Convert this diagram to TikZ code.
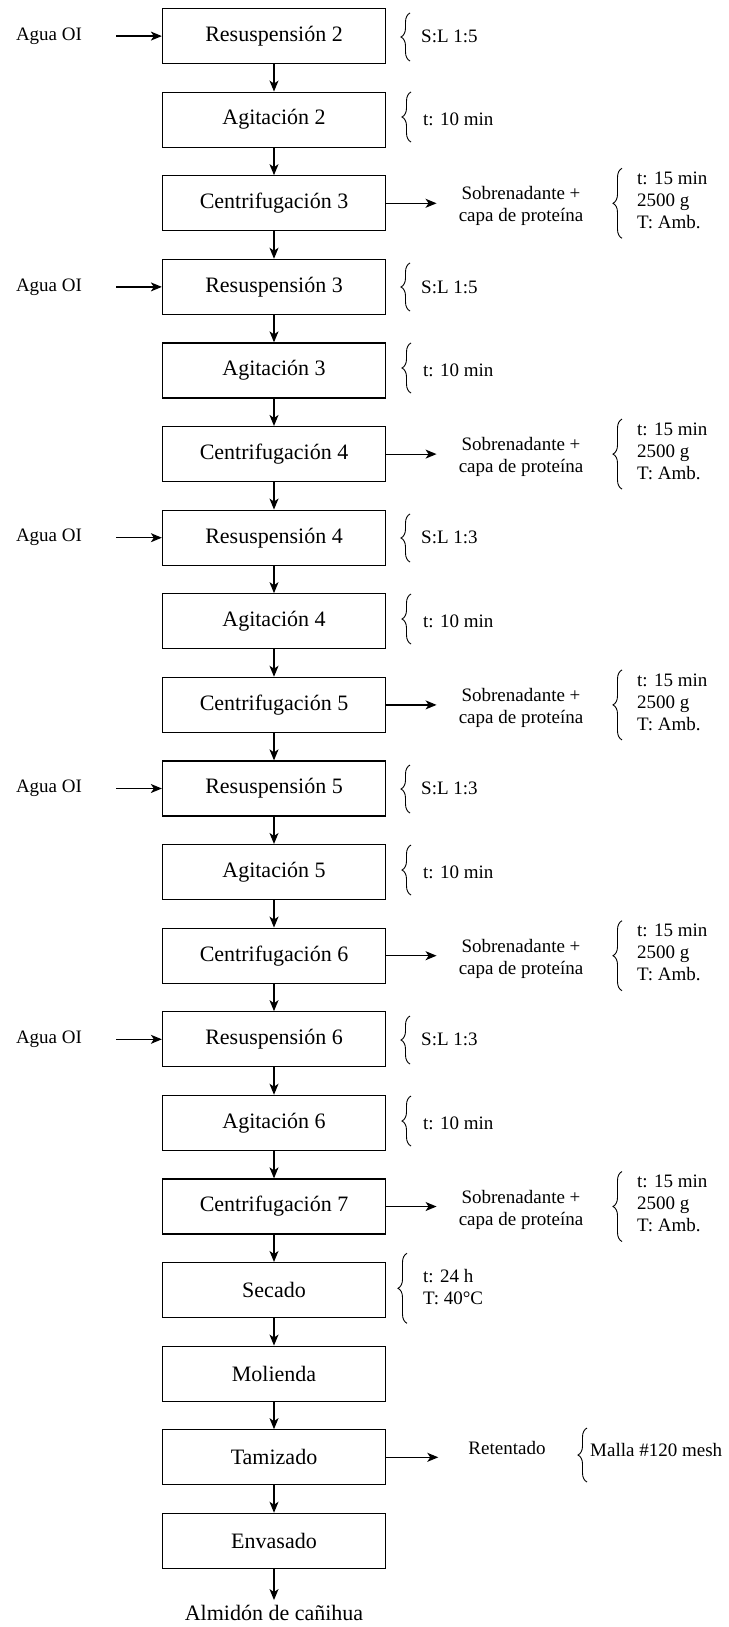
\documentclass[tikz,border=0pt]{standalone}
\usepackage{fontspec}
\setmainfont{Liberation Serif}
\usetikzlibrary{arrows.meta, decorations.pathreplacing, positioning}
\tikzset{>={Stealth[length=11pt,width=9pt,inset=3pt]}}
\tikzset{
	procbox/.style={shape=rectangle, draw, line width=1.3pt, minimum width=223pt, minimum height=55pt, inner sep=0pt, font=\fontsize{22}{26}\selectfont},
	sidetext/.style={inner sep=0pt, align=left, font=\fontsize{19}{22}\selectfont},
	flow/.style={->, line width=1.2pt},
	brc/.style={decorate, decoration={brace, amplitude=9pt}, line width=0.9pt}
}

\begin{document}
\begin{tikzpicture}[x=1pt, y=-1pt]
	% Process boxes:
	\useasboundingbox (0, 0) rectangle (728, 1627);
	\node[procbox] (r2) at (274, 36.1){Resuspensión 2};
	\node[procbox] (a2) at (274, 119.7){Agitación 2};
	\node[procbox] (c3) at (274, 203.3){Centrifugación 3};
	\node[procbox] (r3) at (274, 286.9){Resuspensión 3};
	\node[procbox] (a3) at (274, 370.5){Agitación 3};
	\node[procbox] (c4) at (274, 454.1){Centrifugación 4};
	\node[procbox] (r4) at (274, 537.7){Resuspensión 4};
	\node[procbox] (a4) at (274, 621.3){Agitación 4};
	\node[procbox] (c5) at (274, 704.9){Centrifugación 5};
	\node[procbox] (r5) at (274, 788.5){Resuspensión 5};
	\node[procbox] (a5) at (274, 872.1){Agitación 5};
	\node[procbox] (c6) at (274, 955.7){Centrifugación 6};
	\node[procbox] (r6) at (274, 1039.3){Resuspensión 6};
	\node[procbox] (a6) at (274, 1122.9){Agitación 6};
	\node[procbox] (c7) at (274, 1206.5){Centrifugación 7};
	\node[procbox] (sec) at (274, 1290.1){Secado};
	\node[procbox] (mol) at (274, 1373.7){Molienda};
	\node[procbox] (tam) at (274, 1457.3){Tamizado};
	\node[procbox] (env) at (274, 1540.9){Envasado};
	\node[inner sep=0pt, font=\fontsize{22}{26}\selectfont] (alm) at (274, 1613){Almidón de cañihua};
	\draw[flow] (r2) -- (a2);
	\draw[flow] (a2) -- (c3);
	\draw[flow] (c3) -- (r3);
	\draw[flow] (r3) -- (a3);
	\draw[flow] (a3) -- (c4);
	\draw[flow] (c4) -- (r4);
	\draw[flow] (r4) -- (a4);
	\draw[flow] (a4) -- (c5);
	\draw[flow] (c5) -- (r5);
	\draw[flow] (r5) -- (a5);
	\draw[flow] (a5) -- (c6);
	\draw[flow] (c6) -- (r6);
	\draw[flow] (r6) -- (a6);
	\draw[flow] (a6) -- (c7);
	\draw[flow] (c7) -- (sec);
	\draw[flow] (sec) -- (mol);
	\draw[flow] (mol) -- (tam);
	\draw[flow] (tam) -- (env);
	\draw[flow, shorten >=5pt] (env) -- (alm);
	% Water inputs:
	\node[sidetext] (w2) at (49, 36.1){Agua OI};
	\node[sidetext] (w3) at (49, 286.9){Agua OI};
	\node[sidetext] (w4) at (49, 537.7){Agua OI};
	\node[sidetext] (w5) at (49, 788.5){Agua OI};
	\node[sidetext] (w6) at (49, 1039.3){Agua OI};
	\draw[flow, shorten <=34pt] (w2.east) -- (r2.west);
	\draw[flow, shorten <=34pt] (w3.east) -- (r3.west);
	\draw[flow, shorten <=34pt] (w4.east) -- (r4.west);
	\draw[flow, shorten <=34pt] (w5.east) -- (r5.west);
	\draw[flow, shorten <=34pt] (w6.east) -- (r6.west);
	% Conditions of resuspension and agitation:
	\draw[brc] (410, 61) -- (410, 13);
	\node[sidetext, anchor=west] (sl2) at (421, 36.1){S:L 1:5};
	\draw[brc] (411, 142) -- (411, 92);
	\node[sidetext, anchor=west] (ta2) at (423, 119.7){t: 10 min};
	\draw[brc] (410, 311) -- (410, 263);
	\node[sidetext, anchor=west] (sl3) at (421, 286.9){S:L 1:5};
	\draw[brc] (411, 393) -- (411, 343);
	\node[sidetext, anchor=west] (ta3) at (423, 370.5){t: 10 min};
	\draw[brc] (410, 562) -- (410, 514);
	\node[sidetext, anchor=west] (sl4) at (421, 537.7){S:L 1:3};
	\draw[brc] (411, 644) -- (411, 594);
	\node[sidetext, anchor=west] (ta4) at (423, 621.3){t: 10 min};
	\draw[brc] (410, 813) -- (410, 765);
	\node[sidetext, anchor=west] (sl5) at (421, 788.5){S:L 1:3};
	\draw[brc] (411, 895) -- (411, 845);
	\node[sidetext, anchor=west] (ta5) at (423, 872.1){t: 10 min};
	\draw[brc] (410, 1064) -- (410, 1016);
	\node[sidetext, anchor=west] (sl6) at (421, 1039.3){S:L 1:3};
	\draw[brc] (411, 1146) -- (411, 1096);
	\node[sidetext, anchor=west] (ta6) at (423, 1122.9){t: 10 min};
	% Centrifugation outputs:
	\node[sidetext, align=center] (s3) at (521, 206.3){Sobrenadante +\\capa de proteína};
	\node[sidetext, align=center] (s4) at (521, 457.1){Sobrenadante +\\capa de proteína};
	\node[sidetext, align=center] (s5) at (521, 707.9){Sobrenadante +\\capa de proteína};
	\node[sidetext, align=center] (s6) at (521, 958.7){Sobrenadante +\\capa de proteína};
	\node[sidetext, align=center] (s7) at (521, 1209.5){Sobrenadante +\\capa de proteína};
	\draw[flow, shorten >=22pt] (c3.east) -- (c3.east -| s3.west);
	\draw[flow, shorten >=22pt] (c4.east) -- (c4.east -| s4.west);
	\draw[flow, shorten >=22pt] (c5.east) -- (c5.east -| s5.west);
	\draw[flow, shorten >=22pt] (c6.east) -- (c6.east -| s6.west);
	\draw[flow, shorten >=22pt] (c7.east) -- (c7.east -| s7.west);
	\draw[brc] (622, 238.3) -- (622, 168.3);
	\node[sidetext, anchor=west] (p3) at (637, 200.3){t: 15 min\\2500 g\\T: Amb.};
	\draw[brc] (622, 489.1) -- (622, 419.1);
	\node[sidetext, anchor=west] (p4) at (637, 451.1){t: 15 min\\2500 g\\T: Amb.};
	\draw[brc] (622, 739.9) -- (622, 669.9);
	\node[sidetext, anchor=west] (p5) at (637, 701.9){t: 15 min\\2500 g\\T: Amb.};
	\draw[brc] (622, 990.7) -- (622, 920.7);
	\node[sidetext, anchor=west] (p6) at (637, 952.7){t: 15 min\\2500 g\\T: Amb.};
	\draw[brc] (622, 1241.5) -- (622, 1171.5);
	\node[sidetext, anchor=west] (p7) at (637, 1203.5){t: 15 min\\2500 g\\T: Amb.};
	% Drying and sieving:
	\draw[brc] (407, 1323.3) -- (407, 1253.3);
	\node[sidetext, anchor=west] (psec) at (423, 1287){t: 24 h\\T: 40°C};
	\node[sidetext] (ret) at (507, 1448){Retentado};
	\draw[flow, shorten >=30pt] (tam.east) -- (tam.east -| ret.west);
	\draw[brc] (587, 1482) -- (587, 1428);
	\node[sidetext, anchor=west] (malla) at (590, 1450){Malla \#120 mesh};
\end{tikzpicture}
\end{document}
